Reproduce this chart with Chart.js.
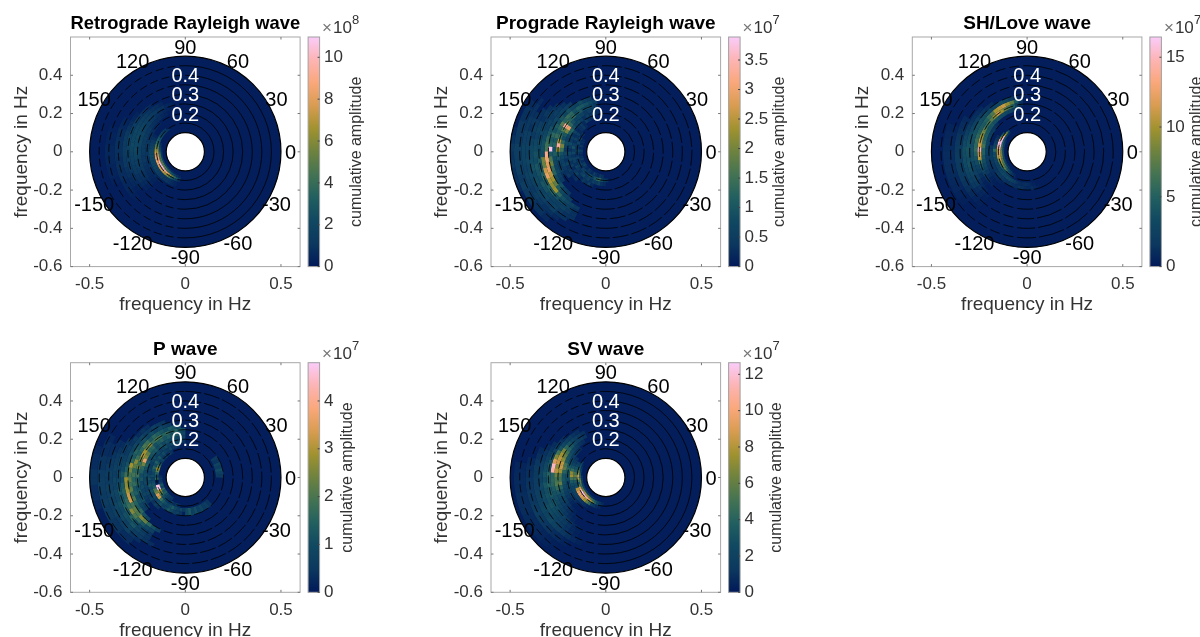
<!DOCTYPE html>
<html>
<head>
<meta charset="utf-8">
<title>Polar wave plots</title>
<script src="https://cdn.jsdelivr.net/npm/chart.js@4"></script>
<style>
  html, body { margin: 0; padding: 0; background: #fff; overflow: hidden; width: 1200px; height: 637px; }
  #page { position: relative; width: 1200px; height: 637px; overflow: hidden; }
  canvas { position: absolute; }
</style>
</head>
<body>
<div id="page"></div>
<script>
/* colour scale, low to high */
const cmapStops = [
  [1, 25, 89], [12, 56, 95], [16, 72, 97], [33, 95, 96], [67, 115, 83], [109, 130, 63],
  [160, 146, 47], [216, 156, 80], [250, 167, 122], [253, 180, 180], [250, 204, 250],
];

const titles = ["Retrograde Rayleigh wave", "Prograde Rayleigh wave", "SH/Love wave", "P wave", "SV wave"];
const colorMax = [10.97, 3.89, 16.45, 4.8, 12.64];
const exponents = ["8", "7", "7", "7", "7"];
const colorTicks = [
  [0, 2, 4, 6, 8, 10],
  [0, 0.5, 1, 1.5, 2, 2.5, 3, 3.5],
  [0, 5, 10, 15],
  [0, 1, 2, 3, 4],
  [0, 2, 4, 6, 8, 10, 12],
];
const xTicks = [-0.5, 0, 0.5];
const yTicks = [-0.6, -0.4, -0.2, 0, 0.2, 0.4];
const ringFreqs = [0.15, 0.2, 0.25, 0.3, 0.35, 0.4, 0.45];
const radialLabels = [0.2, 0.3, 0.4];
const angleLabels = [0, 30, 60, 90, 120, 150, -150, -120, -90, -60, -30];

/* rows: [low freq, high freq, first angle, amplitudes every 5 degrees] */
const retroRows = [
  [0.12, 0.128, 170, [.7, .9, 1.2, 1.4, 1.5, 1.7, 1.7, 1.8, 1.8, 1.7, 1.5, 1.3, 1.0, .7, .5, .4]],
  [0.128, 0.14, 160, [.7, 1.1, 1.6, 2.4, 3.4, 4.0, 4.2, 4.4, 4.6, 5.0, 5.0, 4.8, 4.4, 3.8, 3.2, 2.6, 2.0, 1.4, .8, .5]],
  [0.14, 0.15, 125, [1.0, 1.2, 1.5, 1.8, 2.1, 2.4, 2.7, 3.0, 4.2, 5.4, 6.2, 7.2, 8.0, 8.4, 8.8, 9.6, 10.8, 10.6, 10.2, 9.4, 8.6, 7.8, 6.8, 5.2, 3.8, 2.6, 1.6]],
  [0.15, 0.162, 130, [1.0, 1.4, 1.8, 2.2, 2.6, 3.0, 3.6, 4.6, 5.6, 6.6, 7.4, 7.8, 8.0, 8.2, 8.0, 7.8, 7.6, 7.4, 7.0, 6.4, 5.4, 4.2, 3.0, 2.0, 1.2, .7]],
  [0.162, 0.19, 150, [.5, .8, 1.1, 1.4, 1.6, 1.8, 1.9, 2.1, 2.0, 1.9, 1.8, 1.7, 1.6, 1.4, 1.2, 1.1, 1.0, 1.0, .8, .6, .4]],
  [0.19, 0.21, 130, [.4, .5, .6, .7, .8, .9, 1.0, 1.1, 1.2, 1.1, 1.0, 1.1, 1.0, .8, .9, .8, .7, .6, .5, .4, .3]],
  [0.21, 0.23, 115, [.4, .5, .7, .7, .8, .9, 1.1, 1.1, 1.2, 1.3, 1.2, 1.3, 1.2, 1.1, 1.0, 1.1, .9, .8, .7, .6, .5, .4]],
  [0.23, 0.25, 110, [.4, .5, .7, .8, 1.0, 1.1, 1.4, 1.5, 1.6, 1.8, 1.7, 1.9, 1.8, 1.6, 1.7, 1.5, 1.3, 1.2, 1.1, .9, .8, .6, .4]],
  [0.25, 0.27, 105, [.4, .5, .8, .9, 1.1, 1.2, 1.5, 1.6, 1.8, 1.9, 2.0, 2.1, 2.0, 2.0, 2.1, 1.9, 1.7, 1.5, 1.3, 1.1, .9, .8, .6, .4]],
  [0.27, 0.29, 115, [.5, .7, .8, 1.0, 1.2, 1.4, 1.6, 1.8, 2.0, 1.9, 2.0, 2.1, 1.9, 1.7, 1.6, 1.4, 1.2, 1.1, .9, .8, .6, .4]],
  [0.29, 0.31, 125, [.5, .7, .8, 1.0, 1.2, 1.4, 1.5, 1.6, 1.7, 1.7, 1.6, 1.5, 1.3, 1.2, 1.1, .9, .8, .6, .5]],
  [0.31, 0.33, 140, [.4, .5, .7, .9, 1.1, 1.2, 1.3, 1.3, 1.2, 1.1, 1.1, .9, .8, .6, .5, .3]],
  [0.33, 0.37, 150, [.4, .5, .7, .7, .8, .8, .8, .7, .8, .7, .7, .5, .5, .4, .3]],
  [0.37, 0.42, 160, [.3, .4, .4, .5, .5, .5, .4, .4, .3]],
];

const proRows = [
  [0.12, 0.14, 150, [.2, .3, .2, .4, .2, .5, .3, .2, .3, .5, .2, .4, .6, .3, .2, .4, .3, .2, .5, .3, .2, .4, .3]],
  [0.14, 0.16, 140, [.3, .2, .5, .3, .6, .4, .3, .7, .4, .3, .5, .3, .4, .6, .3, .5, .7, .4, .5, .8, .6, .9, 1.2, 1.4, .8, .5, .3]],
  [0.16, 0.18, 125, [.2, .4, .3, .2, .5, .3, .6, .3, .5, .9, .4, .7, .3, .6, .5, .3, .6, .4, .3, .5, .7, .4, .6, .3, .5, .4, .6, .3, .2]],
  [0.18, 0.20, 110, [.2, .3, .5, .2, .4, .3, .2, .6, .3, .5, .4, .8, .5, .3, .7, .4, .6, .3, .5, .2, .4, .6, .3, .2, .4, .3, .5, .2]],
  [0.20, 0.22, 100, [.2, .4, .3, .5, .3, .5, .7, .6, .9, 1.2, 1.1, .7, .5, .8, .6, .4, .7, .5, .3, .6, .3, .4, .3, .2, .3]],
  [0.22, 0.24, 100, [.3, .4, .5, .4, .6, .7, .6, .9, 1.3, 2.9, 2.0, 1.0, .8, 1.3, 2.0, 1.5, .9, .7, .5, .6, .4, .3, .4]],
  [0.24, 0.26, 100, [.4, .6, .8, .7, 1.0, .9, 1.3, 1.2, 1.6, 3.3, 1.7, 1.2, 1.4, 2.4, 3.3, 2.2, 1.2, .9, .6, .4, .5, .3]],
  [0.26, 0.28, 100, [.5, .7, .9, 1.0, 1.1, .9, 1.3, 1.4, 1.2, 1.7, 1.3, 1.1, 1.4, 1.0, 1.2, .9, 1.1, .8, .7, .6, .7, .5, .4]],
  [0.28, 0.30, 105, [.4, .5, .8, .6, .7, .9, .7, 1.0, .8, 1.1, .9, 1.3, 1.0, 1.2, 3.8, 1.0, 1.6, 1.9, 1.4, 1.2, .8, .7, .9, .5, .4]],
  [0.30, 0.32, 125, [.4, .5, .6, .5, .7, .6, .9, 1.0, 1.3, 1.5, 1.6, 3.2, 3.0, 2.8, 2.9, 2.5, 2.3, 1.8, 1.1, .8, .6, .5]],
  [0.32, 0.34, 130, [.3, .4, .5, .4, .6, .5, .7, .8, .9, .9, .8, 2.0, 1.9, 2.6, 2.9, 2.4, 2.2, 2.3, 1.3, .9, .7, .6, .4]],
  [0.34, 0.36, 135, [.3, .4, .5, .4, .6, .7, .6, .8, .7, .9, 1.0, .9, 1.1, 1.2, 1.0, 1.1, 1.2, .9, .8, .6, .5, .3]],
  [0.36, 0.38, 140, [.3, .4, .3, .5, .6, .5, .7, .8, .9, .8, 1.0, .9, .8, 1.0, .9, .7, .6, .5, .6, .4, .3]],
  [0.38, 0.40, 145, [.3, .3, .4, .5, .4, .6, .7, .7, .8, .9, .7, .8, .7, .6, .7, .5, .6, .4, .3, .3]],
  [0.40, 0.42, 150, [.3, .4, .3, .5, .5, .6, .6, .7, .6, .7, .6, .5, .6, .5, .4, .5, .3, .3]],
  [0.42, 0.44, 140, [.2, .3, .3, .4, .4, .5, .5, .6, .6, .6, .5, .6, .5, .4, .5, .4, .3, .3, .2]],
  [0.44, 0.48, 145, [.2, .3, .3, .4, .4, .4, .5, .5, .5, .5, .4, .5, .4, .4, .3, .3, .2]],
  [0.48, 0.50, 165, [.2, .3, .4, .3, .4, .3, .3, .2]],
];

const shRows = [
  [0.12, 0.13, 150, [1.0, 1.6, 2.2, 2.6, 2.8, 3.2, 3.6, 3.4, 3.2, 3.0, 2.6, 2.4, 2.0, 1.6, 1.2, .8, .5]],
  [0.13, 0.14, 130, [1.0, 1.6, 2.5, 3.2, 4.0, 4.5, 5.0, 6.0, 7.0, 7.5, 8.0, 8.5, 8.0, 7.5, 7.0, 6.5, 6.0, 5.0, 4.0, 3.0, 2.0, 1.2, .7]],
  [0.14, 0.15, 130, [4.0, 8.0, 10.0, 14.0, 15.5, 16.2, 16.2, 16.0, 14.5, 12.5, 12.0, 11.5, 11.0, 11.0, 9.5, 9.0, 8.5, 7.5, 6.0, 4.2, 2.6, 1.6, .9]],
  [0.15, 0.16, 140, [3.5, 5.5, 9.0, 13.0, 15.5, 14.5, 12.0, 10.0, 10.5, 10.5, 9.5, 8.0, 6.5, 5.5, 4.5, 3.5, 3.0, 2.5, 2.0, 1.2, .7]],
  [0.16, 0.18, 150, [1.0, 1.4, 2.0, 2.6, 3.0, 5.5, 3.2, 3.4, 3.0, 2.8, 2.5, 2.4, 2.6, 2.8, 3.2, 3.0, 3.2, 3.0, 2.6, 2.0, 1.4, 1.0, 1.0, 1.2, 1.0, .7, .5]],
  [0.18, 0.20, 170, [1.4, 1.6, 1.8, 2.0, 1.8, 1.6, 1.5, 1.4, 1.5, 1.8, 2.0, 1.6, 1.4, 1.2, 1.4, 1.2, 1.0, 1.4, 1.2, .9, .8, 1.0, .8, .5]],
  [0.20, 0.22, 135, [1.0, 1.4, 1.8, 2.0, 2.4, 2.2, 2.6, 2.4, 2.6, 2.2, 2.0, 1.8, 1.6, 1.4, 1.2, 1.0, .9, .8, .6, .4]],
  [0.22, 0.24, 100, [1.0, 2.0, 2.8, 3.0, 3.4, 3.6, 4.0, 3.8, 4.2, 4.0, 4.4, 4.6, 4.8, 5.5, 6.5, 5.0, 5.0, 4.2, 3.6, 3.0, 2.2, 1.6, 1.0, .6, .4]],
  [0.24, 0.26, 95, [1.2, 2.6, 5.0, 6.5, 8.0, 9.5, 11.0, 9.0, 7.5, 6.5, 6.0, 7.5, 8.5, 9.5, 10.5, 11.0, 14.5, 11.5, 10.5, 6.0, 4.0, 3.0, 2.2, 1.4, 1.0, .6]],
  [0.26, 0.28, 95, [1.4, 4.5, 7.5, 9.5, 11.0, 10.5, 10.0, 7.0, 6.0, 5.0, 4.4, 4.6, 5.0, 5.5, 6.0, 5.5, 5.8, 5.0, 4.0, 3.4, 2.6, 2.0, 1.2, .7, .4]],
  [0.28, 0.30, 100, [1.0, 2.0, 3.0, 3.4, 3.0, 2.6, 3.0, 3.4, 3.6, 3.8, 4.0, 3.8, 4.0, 3.8, 3.6, 3.8, 3.4, 3.6, 3.0, 2.6, 2.4, 1.8, 1.2, .8, .5]],
  [0.30, 0.32, 125, [1.0, 1.2, 1.4, 1.8, 2.4, 2.6, 3.0, 3.2, 3.4, 3.8, 4.0, 3.8, 3.6, 3.8, 3.4, 2.8, 2.4, 1.8, 1.2, .8, .5]],
  [0.32, 0.34, 135, [.8, 1.0, 1.2, 1.4, 1.8, 2.2, 2.8, 3.2, 3.6, 3.4, 3.4, 3.2, 3.0, 2.6, 2.2, 1.6, 1.0, .7, .4]],
  [0.34, 0.38, 150, [.8, 1.0, 1.2, 1.4, 1.6, 1.8, 2.0, 2.0, 1.8, 1.8, 1.6, 1.4, 1.2, .9, .6, .4]],
  [0.38, 0.44, 160, [.6, .7, .8, .9, 1.0, 1.0, 1.0, .9, .8, .7, .6, .4]],
];

const pRows = [
  [0.12, 0.14, 175, [.3, .5, .4, .7, 1.2, .9, 1.6, 1.2, 1.4, 1.0, .7, .5, .4]],
  [0.14, 0.16, 115, [.3, .5, .3, .6, .4, .8, .6, 1.2, 2.0, 2.8, 2.2, 1.4, 1.0, 1.6, .1, .2, 4.6, 4.8, 3.0, 2.2, 1.5, 1.0, .8, .5, .4, .7, .3, .5, .3]],
  [0.16, 0.18, 100, [.3, .5, .4, .8, .5, .7, 1.0, .7, 1.2, .9, 1.4, 1.0, 1.5, 1.1, .8, 1.0, .7, .9, 1.1, 1.3, 2.0, 2.4, 3.4, 3.2, 1.8, 1.3, 1.0, .8, 1.0, 1.3, .9, .6, .9, .5]],
  [0.18, 0.20, 90, [.4, .6, .8, .6, .9, .7, 1.0, .8, .6, .9, .7, 1.0, .8, .6, .5, .8, .6, .9, 1.1, .8, 1.2, .9, 1.1, .8, .9, .7, .9, 1.1, .7, .8, 1.2, .9, .6, .7, .4]],
  [0.20, 0.22, 90, [.7, .9, .8, 1.0, .9, 1.1, .9, 1.2, 1.0, 1.3, 1.2, 1.1, .9, 1.2, 1.4, 1.1, .9, 1.0, .8, .9, .7, .6, .8, .5, .7, .4, .6, .4]],
  [0.22, 0.24, 90, [.9, 1.1, 1.3, 1.1, 1.4, 1.2, 1.5, 1.3, 1.1, 1.6, 1.5, 2.2, 2.6, 3.6, 2.4, 1.6, 1.4, 1.0, 1.2, .8, 1.0, .7, .8, .5, .4]],
  [0.24, 0.26, 90, [1.0, 1.2, 1.5, 1.3, 1.7, 1.5, 1.9, 2.0, 1.7, 2.5, 2.2, 2.9, 3.0, 2.4, 1.8, 2.2, 1.6, 1.8, 1.3, 1.5, 1.0, 1.2, .9, 1.1, .7, .5]],
  [0.26, 0.28, 95, [.9, 1.1, 1.3, 1.0, 1.2, 1.4, 1.6, 1.3, 1.8, 2.0, 1.6, 1.4, 1.8, 2.6, 2.2, 1.6, 1.9, 1.5, 1.7, 1.2, 1.4, 1.0, 1.1, .8, .6]],
  [0.28, 0.30, 105, [.5, .7, .9, .7, 1.0, .8, 1.1, 1.0, 1.2, 1.5, 1.3, 1.6, 2.9, 2.4, 1.9, 2.2, 1.8, 2.2, 1.6, 2.0, 1.5, 1.3, 1.6, 1.1, .8]],
  [0.30, 0.32, 110, [.4, .5, .7, .5, .6, .8, .7, .9, .8, 1.0, .9, 1.1, 1.4, 1.8, 2.8, 2.7, 2.9, 3.2, 3.3, 1.9, 2.2, 2.0, 2.6, 2.3, 1.6, 1.1, .7]],
  [0.32, 0.34, 125, [.3, .4, .3, .5, .4, .6, .5, .7, .8, .9, 1.2, 1.0, 1.3, 1.5, 1.4, 1.6, 1.8, 2.6, 2.0, 1.6, 1.2, .9, .7]],
  [0.34, 0.36, 145, [.4, .5, .5, .7, .8, .7, .9, .8, 1.0, 1.2, 1.1, 1.3, 1.4, 1.2, 1.5, 1.0, .8, .6, .4]],
  [0.36, 0.38, 150, [.3, .4, .5, .6, .7, .6, .8, .7, .9, .8, 1.0, .9, 1.1, 1.0, 1.2, .8, .6, .4]],
  [0.38, 0.40, 150, [.3, .3, .4, .5, .5, .7, .6, .7, .8, .7, .9, .8, .9, .7, .8, .6, .5, .4, .3]],
  [0.40, 0.42, 155, [.3, .3, .4, .5, .6, .5, .7, .6, .7, .6, .7, .5, .6, .7, .4, .3]],
  [0.42, 0.46, 150, [.2, .3, .3, .4, .4, .5, .6, .6, .5, .6, .5, .5, .4, .4, .3, .3]],
  [0.46, 0.50, 160, [.2, .3, .3, .4, .4, .3, .3, .2]],
  [0.16, 0.20, 270, [.9, 1.2, .7, 1.0, .6, .8, .5, .6, .4]],
  [0.16, 0.20, 0, [.5, .7, 1.0, .6, .8, .4, .5]],
];

const svRows = [
  [0.12, 0.13, 175, [1.0, 1.4, 1.8, 1.6, 2.0, 2.2, 2.4, 2.4, 2.2, 2.0, 1.6, 1.2, 1.0, .6, .4]],
  [0.13, 0.14, 150, [.6, 1.0, 1.6, 2.2, 3.0, 4.0, 5.0, 6.0, 5.5, 4.8, 5.0, 6.0, 7.0, 8.0, 7.5, 7.0, 6.0, 5.0, 4.0, 3.0, 2.0, 1.2, .7]],
  [0.14, 0.15, 145, [1.6, 2.4, 3.0, 3.8, 6.0, 7.5, 8.5, 8.0, 5.0, 3.0, 6.0, 9.0, 11.0, 12.4, 12.2, 11.5, 10.5, 9.5, 8.0, 6.0, 4.0, 2.5, 1.4, .8]],
  [0.15, 0.17, 150, [1.6, 2.2, 3.0, 3.6, 5.0, 6.0, 5.0, 3.4, 2.6, 2.6, 8.0, 9.0, 9.5, 9.0, 8.5, 7.5, 6.0, 4.5, 1.8, 1.2, .8, .5]],
  [0.17, 0.19, 145, [1.0, 1.4, 2.0, 3.0, 4.5, 7.0, 7.5, 5.0, 3.4, 2.6, 2.0, 2.2, 2.0, 1.8, 1.5, 1.2, 1.0, .8, .5, .3]],
  [0.19, 0.21, 130, [.8, 1.0, 1.4, 1.6, 2.0, 2.6, 3.2, 4.0, 3.4, 2.8, 2.6, 2.0, 2.4, 2.0, 1.6, 1.4, 1.0, .8, .5, .3]],
  [0.21, 0.23, 120, [.8, 1.0, 1.4, 1.8, 2.4, 2.8, 3.0, 3.4, 5.0, 5.6, 4.0, 3.0, 3.2, 2.8, 2.4, 2.0, 1.6, 1.2, .8, .5, .3]],
  [0.23, 0.25, 115, [1.0, 1.4, 1.8, 2.4, 3.2, 4.0, 5.0, 6.0, 7.0, 8.2, 8.5, 7.5, 5.5, 5.0, 6.0, 4.0, 3.0, 2.6, 2.0, 1.4, 1.0, .6, .4]],
  [0.25, 0.27, 115, [.9, 1.2, 1.6, 2.2, 3.0, 4.2, 6.5, 7.5, 8.2, 8.5, 7.0, 8.0, 6.0, 5.0, 5.4, 4.4, 3.2, 2.4, 2.0, 1.6, 1.2, .9, .6, .4]],
  [0.27, 0.29, 120, [.8, 1.0, 1.4, 1.8, 2.4, 3.0, 5.0, 6.8, 9.0, 11.5, 11.0, 4.0, 4.2, 4.0, 3.4, 3.0, 2.8, 2.4, 2.0, 1.6, 1.2, .8, .5]],
  [0.29, 0.31, 135, [.8, 1.0, 1.4, 1.8, 2.2, 3.0, 3.4, 3.0, 4.0, 3.4, 3.8, 3.2, 3.4, 2.8, 3.0, 2.6, 2.2, 1.8, 1.4, 1.0, .6, .4]],
  [0.31, 0.33, 145, [.8, 1.0, 1.4, 1.8, 2.4, 2.6, 3.0, 2.6, 3.2, 2.8, 3.0, 2.8, 3.0, 2.6, 2.2, 1.8, 1.4, 1.0, .6, .4]],
  [0.33, 0.35, 150, [.7, 1.0, 1.2, 1.6, 1.8, 2.2, 2.0, 2.4, 2.2, 2.6, 2.4, 2.8, 2.6, 2.2, 1.8, 1.4, 1.0, .7, .4]],
  [0.35, 0.38, 155, [.7, .9, 1.2, 1.4, 1.4, 1.6, 1.6, 1.8, 1.8, 2.0, 2.2, 2.0, 2.4, 2.0, 1.6, 1.2, .9, .6, .4]],
  [0.38, 0.42, 165, [.6, .8, .9, 1.0, 1.1, 1.2, 1.2, 1.4, 1.6, 1.4, 1.2, 1.0, .8, .6, .4]],
  [0.42, 0.48, 170, [.5, .6, .7, .7, .8, .8, .8, .7, .7, .6, .5, .4, .3]],
];

const allRows = [retroRows, proRows, shRows, pRows, svRows];

/* layout in page pixels */
const boxLeft = [70.5, 491, 912.3, 70.5, 491];
const boxTop = [37, 37, 37, 362.7, 362.7];
const boxSize = 229.6;
const labelGap = [48, 51, 47, 39, 48];
const dashLeft = [[8, 4], [10, 4], [10, 4], [9, 4], [8, 4]];
const dashRight = [[], [16, 3], [26, 3], [16, 3], []];

const textColor = "#333";
const font = "'Liberation Sans', Arial, sans-serif";
Chart.defaults.font.family = font;

function ampColor(t) {
  const s = Math.min(Math.max(t, 0), 1) * (cmapStops.length - 1);
  const i = Math.min(Math.floor(s), cmapStops.length - 2);
  const a = cmapStops[i], b = cmapStops[i + 1], k = s - i;
  return `rgb(${a[0] + (b[0] - a[0]) * k},${a[1] + (b[1] - a[1]) * k},${a[2] + (b[2] - a[2]) * k})`;
}

function rowsToCells(rows) {
  const cells = [];
  rows.forEach(([f0, f1, start, values]) => {
    values.forEach((v, i) => {
      const t0 = start + i * 5;
      const mid = ((t0 + 2.5) * Math.PI) / 180;
      const f = (f0 + f1) / 2;
      cells.push({ x: f * Math.cos(mid), y: f * Math.sin(mid), f0, f1, t0, t1: t0 + 5, v });
    });
  });
  return cells;
}

function rad(d) {
  return (d * Math.PI) / 180;
}

const polarPlugin = {
  id: "polarPlugin",
  beforeDatasetsDraw(chart, args, opts) {
    const ctx = chart.ctx;
    const xs = chart.scales.x, ys = chart.scales.y;
    const cx = xs.getPixelForValue(0), cy = ys.getPixelForValue(0);
    const rx = (f) => xs.getPixelForValue(f) - cx;
    const ry = (f) => cy - ys.getPixelForValue(f);
    ctx.save();

    // disc
    ctx.beginPath();
    ctx.ellipse(cx, cy, rx(0.5), ry(0.5), 0, 0, Math.PI * 2);
    ctx.fillStyle = "rgb(3,30,90)";
    ctx.fill();

    // cells
    chart.data.datasets[0].data.forEach((c) => {
      ctx.beginPath();
      ctx.ellipse(cx, cy, rx(c.f1), ry(c.f1), 0, rad(-c.t0 + 0.2), rad(-c.t1 - 0.2), true);
      ctx.ellipse(cx, cy, rx(c.f0), ry(c.f0), 0, rad(-c.t1 - 0.2), rad(-c.t0 + 0.2), false);
      ctx.closePath();
      ctx.fillStyle = ampColor(c.v / opts.cmax);
      ctx.fill();
    });

    // rings, broken where the cells sit over them
    ctx.strokeStyle = "#000";
    ctx.lineWidth = 0.8;
    ringFreqs.forEach((f) => {
      ctx.setLineDash(opts.dashRight);
      ctx.beginPath();
      ctx.ellipse(cx, cy, rx(f), ry(f), 0, rad(-90), rad(90));
      ctx.stroke();
      ctx.setLineDash(opts.dashLeft);
      ctx.beginPath();
      ctx.ellipse(cx, cy, rx(f), ry(f), 0, rad(90), rad(270));
      ctx.stroke();
    });
    ctx.setLineDash([]);

    // outer edge and hole
    ctx.lineWidth = 1.2;
    ctx.beginPath();
    ctx.ellipse(cx, cy, rx(0.5), ry(0.5), 0, 0, Math.PI * 2);
    ctx.stroke();
    ctx.beginPath();
    ctx.ellipse(cx, cy, rx(0.1), ry(0.1), 0, 0, Math.PI * 2);
    ctx.fillStyle = "#fff";
    ctx.fill();
    ctx.stroke();

    // polar labels
    ctx.textAlign = "center";
    ctx.textBaseline = "middle";
    ctx.font = `20px ${font}`;
    ctx.fillStyle = "#000";
    angleLabels.forEach((a) => {
      ctx.fillText(String(a), cx + rx(0.55) * Math.cos(rad(a)), cy - ry(0.55) * Math.sin(rad(a)) + 1.5);
    });
    ctx.fillStyle = "#fff";
    radialLabels.forEach((f) => {
      ctx.fillText(f.toFixed(1), cx, cy - ry(f) + 1.5);
    });
    ctx.restore();
  },
  afterDraw(chart, args, opts) {
    const ctx = chart.ctx;
    const a = chart.chartArea;
    const xs = chart.scales.x, ys = chart.scales.y, cb = chart.scales.cb;
    ctx.save();

    // axes box with inward ticks
    ctx.strokeStyle = "#a8a8a8";
    ctx.lineWidth = 1;
    ctx.strokeRect(a.left, a.top, a.right - a.left, a.bottom - a.top);
    ctx.strokeStyle = "#777";
    ctx.beginPath();
    xs.ticks.forEach((t) => {
      const p = xs.getPixelForValue(t.value);
      ctx.moveTo(p, a.bottom); ctx.lineTo(p, a.bottom - 2.5);
      ctx.moveTo(p, a.top); ctx.lineTo(p, a.top + 2.5);
    });
    ys.ticks.forEach((t) => {
      const p = ys.getPixelForValue(t.value);
      ctx.moveTo(a.left, p); ctx.lineTo(a.left + 2.5, p);
      ctx.moveTo(a.right, p); ctx.lineTo(a.right - 2.5, p);
    });
    ctx.stroke();

    // colour bar
    const barL = a.right + 8, barW = 11.5;
    const grad = ctx.createLinearGradient(0, cb.getPixelForValue(0), 0, cb.getPixelForValue(opts.cmax));
    cmapStops.forEach((c, i) => {
      grad.addColorStop(i / (cmapStops.length - 1), `rgb(${c[0]},${c[1]},${c[2]})`);
    });
    ctx.fillStyle = grad;
    ctx.fillRect(barL, a.top, barW, a.bottom - a.top);
    ctx.strokeStyle = "#a0a0a0";
    ctx.strokeRect(barL, a.top, barW, a.bottom - a.top);
    ctx.strokeStyle = "#444";
    ctx.beginPath();
    cb.ticks.forEach((t) => {
      const p = cb.getPixelForValue(t.value);
      ctx.moveTo(barL + barW, p); ctx.lineTo(barL + barW - 2, p);
    });
    ctx.stroke();

    // exponent
    ctx.textBaseline = "alphabetic";
    ctx.textAlign = "left";
    ctx.fillStyle = "#777";
    ctx.font = `17px ${font}`;
    ctx.fillText("×", barL + 14, a.top - 4);
    ctx.fillStyle = textColor;
    ctx.fillText("10", barL + 25, a.top - 4);
    ctx.font = `13px ${font}`;
    ctx.fillText(opts.exponent, barL + 44, a.top - 13);

    // colour bar label
    ctx.font = `16px ${font}`;
    ctx.textAlign = "center";
    ctx.textBaseline = "middle";
    ctx.translate(barL + opts.labelGap, (a.top + a.bottom) / 2);
    ctx.rotate(-Math.PI / 2);
    ctx.fillText("cumulative amplitude", 0, 0);
    ctx.restore();
  },
};

function drawPanel(i) {
  const page = document.getElementById("page");
  const canvas = document.createElement("canvas");
  const canvasLeft = Math.round(boxLeft[i]) - 71;
  const canvasTop = Math.round(boxTop[i]) - 37;
  const areaLeft = boxLeft[i] - canvasLeft;
  const areaTop = boxTop[i] - canvasTop;
  const W = 370, H = 320;
  canvas.width = W;
  canvas.height = H;
  canvas.style.left = canvasLeft + "px";
  canvas.style.top = canvasTop + "px";
  page.appendChild(canvas);

  const ticksFont = { size: 17 };
  const titleFont = { size: 19 };

  new Chart(canvas, {
    type: "scatter",
    data: { datasets: [{ data: rowsToCells(allRows[i]), pointRadius: 0, pointHoverRadius: 0 }] },
    plugins: [polarPlugin],
    options: {
      responsive: false,
      animation: false,
      layout: { padding: 0 },
      events: [],
      plugins: {
        legend: { display: false },
        tooltip: { enabled: false },
        title: {
          display: true,
          text: titles[i],
          fullSize: false,
          color: "#000",
          font: { size: 19, weight: "bold", lineHeight: 1.2 },
          padding: { top: areaTop - 22.8 - 1.6, bottom: 1.6 },
        },
        polarPlugin: {
          cmax: colorMax[i],
          exponent: exponents[i],
          labelGap: labelGap[i],
          dashLeft: dashLeft[i],
          dashRight: dashRight[i],
        },
      },
      scales: {
        x: {
          type: "linear",
          min: -0.6,
          max: 0.6,
          grid: { display: false },
          border: { display: false },
          afterBuildTicks: (s) => { s.ticks = xTicks.map((v) => ({ value: v })); },
          afterFit: (s) => { s.height = H - areaTop - boxSize; },
          ticks: { color: textColor, font: ticksFont, padding: 0, maxRotation: 0, callback: (v) => String(v) },
          title: { display: true, text: "frequency in Hz", color: textColor, font: titleFont, padding: { top: 0, bottom: 4 } },
        },
        y: {
          type: "linear",
          min: -0.6,
          max: 0.6,
          grid: { display: false },
          border: { display: false },
          afterBuildTicks: (s) => { s.ticks = yTicks.map((v) => ({ value: v })); },
          afterFit: (s) => { s.width = areaLeft; },
          ticks: { color: textColor, font: ticksFont, padding: 0, callback: (v) => String(v) },
          title: { display: true, text: "frequency in Hz", color: textColor, font: titleFont, padding: { top: 10, bottom: 0 } },
        },
        cb: {
          type: "linear",
          position: "right",
          min: 0,
          max: colorMax[i],
          grid: { display: false },
          border: { display: false },
          afterBuildTicks: (s) => { s.ticks = colorTicks[i].map((v) => ({ value: v })); },
          afterFit: (s) => { s.width = W - areaLeft - boxSize; },
          ticks: { color: textColor, font: ticksFont, padding: 16, callback: (v) => String(v) },
        },
      },
    },
  });
}

titles.forEach((t, i) => drawPanel(i));
</script>
</body>
</html>
